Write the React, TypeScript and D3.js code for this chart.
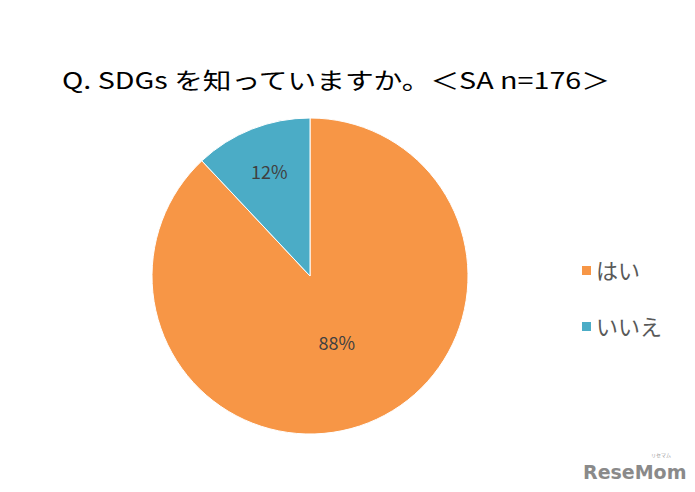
import * as d3 from 'd3';
import { useEffect, useRef } from 'react';

const categories = ['はい', 'いいえ'];
const values = [88, 12];
const colors = ['#F79646', '#4BACC6'];
const title = 'Q. SDGs を知っていますか。＜SA n=176＞';

const font = "'Noto Sans CJK JP', 'Noto Sans', sans-serif";

export default function App() {
    const ref = useRef<SVGSVGElement | null>(null);

    useEffect(() => {
        if (!ref.current) return;
        const svg = d3.select(ref.current);
        svg.selectAll('*').remove();

        const width = 695;
        const height = 492;
        const cx = 310;
        const cy = 276;
        const r = 158;

        svg.append('rect').attr('width', width).attr('height', height).attr('fill', '#fff');

        // タイトル
        svg.append('text')
            .attr('x', 62)
            .attr('y', 89)
            .attr('font-family', font)
            .attr('font-size', 23)
            .attr('textLength', 548)
            .attr('lengthAdjust', 'spacingAndGlyphs')
            .attr('fill', '#000')
            .text(title);

        const data = categories.map((c, i) => ({ c, v: values[i], color: colors[i] }));
        const pie = d3.pie<{ c: string; v: number; color: string }>()
            .value((d) => d.v)
            .sort(null);
        const arcs = pie(data);
        const arc = d3.arc<d3.PieArcDatum<{ c: string; v: number; color: string }>>()
            .innerRadius(0)
            .outerRadius(r);

        const g = svg.append('g').attr('transform', `translate(${cx},${cy})`);
        g.selectAll('path')
            .data(arcs)
            .join('path')
            .attr('d', arc)
            .attr('fill', (d) => d.data.color)
            .attr('stroke', '#fff')
            .attr('stroke-width', 1);

        // ラベル (小さい扇形は外寄り)
        g.selectAll('text.lbl')
            .data(arcs)
            .join('text')
            .attr('class', 'lbl')
            .attr('transform', (d) => {
                const lr = d.data.v < 50 ? r * 0.7 : r * 0.46;
                const a = (d.startAngle + d.endAngle) / 2;
                return `translate(${Math.sin(a) * lr},${-Math.cos(a) * lr})`;
            })
            .attr('text-anchor', 'middle')
            .attr('dy', '0.35em')
            .attr('font-family', font)
            .attr('font-size', 18)
            .attr('fill', '#404040')
            .text((d) => `${d.data.v}%`);

        // 凡例
        const legend = svg.append('g');
        const items = legend.selectAll('g')
            .data(data)
            .join('g')
            .attr('transform', (_, i) => `translate(582,${271 + i * 56})`);
        items.append('rect')
            .attr('x', 0)
            .attr('y', -5)
            .attr('width', 9)
            .attr('height', 9)
            .attr('fill', (d) => d.color);
        items.append('text')
            .attr('x', 14)
            .attr('y', 0)
            .attr('dy', '0.35em')
            .attr('font-family', font)
            .attr('font-size', 22)
            .attr('fill', '#595959')
            .text((d) => d.c);

        // ロゴ
        svg.append('text')
            .attr('x', 583)
            .attr('y', 479)
            .attr('font-family', "'DejaVu Sans', sans-serif")
            .attr('font-weight', 'bold')
            .attr('font-size', 19)
            .attr('fill', '#8a8a8a')
            .text('ReseMom');
        svg.append('text')
            .attr('x', 651)
            .attr('y', 457)
            .attr('font-family', font)
            .attr('font-size', 5)
            .attr('fill', '#999')
            .text('リセマム');
    }, []);

    return <svg ref={ref} width={695} height={492} style={{ position: 'absolute', left: 0, top: 0 }} />;
}
